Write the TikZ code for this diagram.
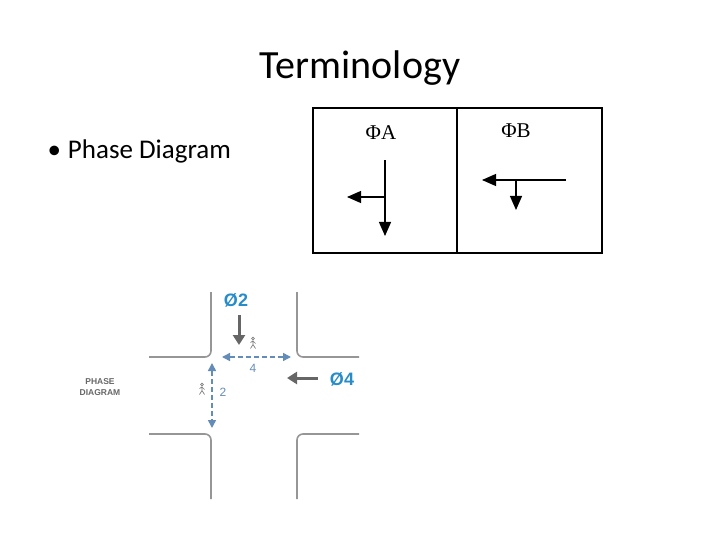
\documentclass[tikz,border=0pt]{standalone}
\usepackage{fontspec}
\setmainfont{Carlito}
\newfontfamily\hv{Liberation Sans}
\newfontfamily\tms{Liberation Serif}
\usetikzlibrary{arrows.meta}
\definecolor{road}{RGB}{150,150,150}
\definecolor{phb}{RGB}{40,140,200}
\definecolor{dsh}{RGB}{100,140,185}
\tikzset{
 roadl/.style={road,line width=1.6pt,rounded corners=6pt},
 blk/.style={line width=1.2pt,-{Triangle[length=14pt,width=12pt]}},
 ped/.style={dsh,line width=1.5pt,dashed,dash pattern=on 5pt off 3pt,{Triangle[length=8pt,width=8pt]}-{Triangle[length=8pt,width=8pt]}},
 veh/.style={gray!80!black,line width=3pt,-{Triangle[length=10pt,width=12pt]}},
 walker/.pic={\draw[gray,line width=0.7pt] (0,-4.5) circle(1.4) (0,-2.5)--(0,1.5) (0,1.5)--(-2.5,5.5) (0,1.5)--(2.5,5.5) (-2.5,-0.5)--(0,-2)--(2.5,0.5);}
}
\begin{document}
\begin{tikzpicture}[x=1pt,y=-1pt]
\useasboundingbox (0,0) rectangle (720,540);
\node (title) at (360,68) {\fontsize{40}{42}\selectfont Terminology};
\node[anchor=west] (bul) at (44,151) {\fontsize{27}{29}\selectfont •\hspace{7pt}Phase Diagram};
% box
\node[draw,line width=1.5pt,minimum width=289pt,minimum height=145pt,inner sep=0] (box) at (457.5,180.5) {};
\draw[line width=2pt] (457,108) coordinate (d1) -- (457,253) coordinate (d2);
\node (pa) at (381,133) {\tms\fontsize{21}{22}\selectfont ΦA};
\node (pb) at (516,131) {\tms\fontsize{21}{22}\selectfont ΦB};
\coordinate (a1) at (385,160); \coordinate (a2) at (385,236);
\coordinate (a3) at (385,197); \coordinate (a4) at (347,197);
\draw[blk] (a1)--(a2); \draw[blk] (a3)--(a4);
\coordinate (b1) at (566,180); \coordinate (b2) at (482,180);
\coordinate (b3) at (516,180); \coordinate (b4) at (516,210);
\draw[blk] (b1)--(b2); \draw[blk] (b3)--(b4);
% roads
\draw[roadl] (211,292)--(211,357)--(149,357);
\draw[roadl] (297,292)--(297,357)--(359,357);
\draw[roadl] (149,434)--(211,434)--(211,499);
\draw[roadl] (359,434)--(297,434)--(297,499);
\node (p2) at (236,300) {\hv\bfseries\color{phb}\fontsize{18}{18}\selectfont Ø2};
\node (p4) at (342,379) {\hv\bfseries\color{phb}\fontsize{18}{18}\selectfont Ø4};
\coordinate (v1) at (239,315); \coordinate (v2) at (239,345);
\draw[veh] (v1)--(v2);
\coordinate (v3) at (318,378); \coordinate (v4) at (287,378);
\draw[veh] (v3)--(v4);
\coordinate (h1) at (222,357); \coordinate (h2) at (291,357);
\draw[ped] (h1)--(h2);
\coordinate (w1) at (212,363); \coordinate (w2) at (212,428);
\draw[ped] (w1)--(w2);
\node (n4) at (253,368) {\hv\color{dsh}\fontsize{12}{12}\selectfont 4};
\node (n2) at (223,392) {\hv\color{dsh}\fontsize{12}{12}\selectfont 2};
\pic at (253,343) {walker};
\pic at (202,389) {walker};
\node[align=center,text=gray!80!black,font={\hv\bfseries\fontsize{8.5}{11}\selectfont}] (pd) at (100,387) {PHASE\\DIAGRAM};
\end{tikzpicture}
\end{document}
